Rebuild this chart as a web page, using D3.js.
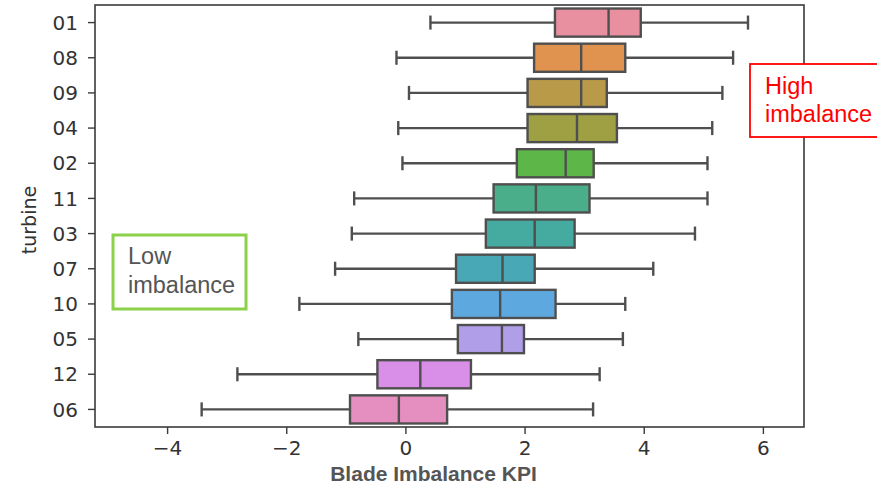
<!DOCTYPE html>
<html>
<head>
<meta charset="utf-8">
<script src="https://cdn.jsdelivr.net/npm/d3@7"></script>
<style>
  body { margin: 0; background: #fff; }
  svg { display: block; }
</style>
</head>
<body>
<div id="chart"></div>
<script>
const turbines = ['01', '08', '09', '04', '02', '11', '03', '07', '10', '05', '12', '06'];
const whiskerLow = [0.42, -0.15, 0.06, -0.12, -0.05, -0.86, -0.90, -1.18, -1.78, -0.79, -2.82, -3.42];
const q1 = [2.51, 2.16, 2.05, 2.05, 1.87, 1.48, 1.35, 0.85, 0.78, 0.88, -0.47, -0.93];
const median = [3.41, 2.95, 2.95, 2.88, 2.69, 2.19, 2.17, 1.63, 1.59, 1.62, 0.25, -0.11];
const q3 = [3.95, 3.69, 3.38, 3.55, 3.16, 3.09, 2.84, 2.17, 2.52, 1.99, 1.10, 0.70];
const whiskerHigh = [5.75, 5.50, 5.32, 5.15, 5.07, 5.07, 4.86, 4.16, 3.69, 3.65, 3.26, 3.15];
const colors = ['#e8909f', '#e0924f', '#b99a48', '#9ea043', '#5db748', '#4aae8a',
                '#45aaa0', '#48a8b5', '#5ea8e0', '#b09fe8', '#d98ee8', '#e58fc0'];
const xTicks = [-4, -2, 0, 2, 4, 6];

const width = 877, height = 486;
const margin = { left: 95, right: 73, top: 5, bottom: 59 };

const svg = d3.select('#chart').append('svg')
  .attr('width', width)
  .attr('height', height);

const x = d3.scaleLinear()
  .domain([-5.21, 6.69])
  .range([margin.left, width - margin.right]);

const y = d3.scaleBand()
  .domain(turbines)
  .range([margin.top, height - margin.bottom])
  .padding(0);

const boxes = turbines.map((t, i) => ({
  t, lo: whiskerLow[i], q1: q1[i], med: median[i], q3: q3[i], hi: whiskerHigh[i], color: colors[i]
}));

const lineColor = '#4f4f4f';
const lw = 2.4;
const boxH = y.bandwidth() * 0.8;

const g = svg.append('g').selectAll('g').data(boxes).join('g')
  .attr('transform', d => `translate(0,${y(d.t) + y.bandwidth() / 2})`);

// whiskers
g.append('line')
  .attr('x1', d => x(d.lo)).attr('x2', d => x(d.q1))
  .attr('stroke', lineColor).attr('stroke-width', lw);
g.append('line')
  .attr('x1', d => x(d.q3)).attr('x2', d => x(d.hi))
  .attr('stroke', lineColor).attr('stroke-width', lw);
// caps
g.append('line')
  .attr('x1', d => x(d.lo)).attr('x2', d => x(d.lo))
  .attr('y1', -boxH / 4).attr('y2', boxH / 4)
  .attr('stroke', lineColor).attr('stroke-width', lw);
g.append('line')
  .attr('x1', d => x(d.hi)).attr('x2', d => x(d.hi))
  .attr('y1', -boxH / 4).attr('y2', boxH / 4)
  .attr('stroke', lineColor).attr('stroke-width', lw);
// box
g.append('rect')
  .attr('x', d => x(d.q1))
  .attr('y', -boxH / 2)
  .attr('width', d => x(d.q3) - x(d.q1))
  .attr('height', boxH)
  .attr('fill', d => d.color)
  .attr('stroke', lineColor).attr('stroke-width', lw);
// median
g.append('line')
  .attr('x1', d => x(d.med)).attr('x2', d => x(d.med))
  .attr('y1', -boxH / 2).attr('y2', boxH / 2)
  .attr('stroke', lineColor).attr('stroke-width', lw);

// frame
svg.append('rect')
  .attr('x', margin.left).attr('y', margin.top)
  .attr('width', width - margin.left - margin.right)
  .attr('height', height - margin.top - margin.bottom)
  .attr('fill', 'none')
  .attr('stroke', '#3a3a3a').attr('stroke-width', 1.6);

// axes
const xAxis = svg.append('g')
  .attr('transform', `translate(0,${height - margin.bottom})`)
  .call(d3.axisBottom(x).tickValues(xTicks).tickSize(7).tickPadding(5)
    .tickFormat(d => d < 0 ? '\u2212' + Math.abs(d) : d));
xAxis.select('.domain').remove();

const yAxis = svg.append('g')
  .attr('transform', `translate(${margin.left},0)`)
  .call(d3.axisLeft(y).tickSize(7).tickPadding(10));
yAxis.select('.domain').remove();

svg.selectAll('.tick line').attr('stroke', '#3a3a3a').attr('stroke-width', 1.4);
svg.selectAll('.tick text')
  .attr('fill', '#333')
  .style('font-family', 'DejaVu Sans, sans-serif')
  .style('font-size', '20px');
xAxis.selectAll('.tick text').attr('dy', '0.8em');
yAxis.selectAll('.tick text').attr('dy', '0.36em');

// axis labels
svg.append('text')
  .attr('x', 433.5)
  .attr('y', 481)
  .attr('text-anchor', 'middle')
  .attr('fill', '#555')
  .style('font-family', 'Liberation Sans, Arial, sans-serif')
  .style('font-weight', 'bold')
  .style('font-size', '21px')
  .text('Blade Imbalance KPI');

svg.append('text')
  .attr('transform', 'translate(36,220) rotate(-90)')
  .attr('text-anchor', 'middle')
  .attr('fill', '#333')
  .style('font-family', 'DejaVu Sans, sans-serif')
  .style('font-size', '19px')
  .text('turbine');

// annotations
const annoFont = 'Liberation Sans, Arial, sans-serif';
const highBox = svg.append('g');
highBox.append('rect')
  .attr('x', 750).attr('y', 64).attr('width', 135).attr('height', 73)
  .attr('fill', '#fff').attr('stroke', '#ff0000').attr('stroke-width', 1.8);
highBox.append('text')
  .attr('x', 765).attr('y', 94)
  .attr('fill', '#ff0000')
  .style('font-family', annoFont)
  .style('font-size', '23.5px')
  .text('High');
highBox.append('text')
  .attr('x', 765).attr('y', 122)
  .attr('fill', '#ff0000')
  .style('font-family', annoFont)
  .style('font-size', '23.5px')
  .text('imbalance');

const lowBox = svg.append('g');
lowBox.append('rect')
  .attr('x', 113).attr('y', 235).attr('width', 133).attr('height', 74)
  .attr('fill', '#fff').attr('stroke', '#8cd14a').attr('stroke-width', 3);
lowBox.append('text')
  .attr('x', 128).attr('y', 264)
  .attr('fill', '#555')
  .style('font-family', annoFont)
  .style('font-size', '23.5px')
  .text('Low');
lowBox.append('text')
  .attr('x', 128).attr('y', 293)
  .attr('fill', '#555')
  .style('font-family', annoFont)
  .style('font-size', '23.5px')
  .text('imbalance');
</script>
</body>
</html>
